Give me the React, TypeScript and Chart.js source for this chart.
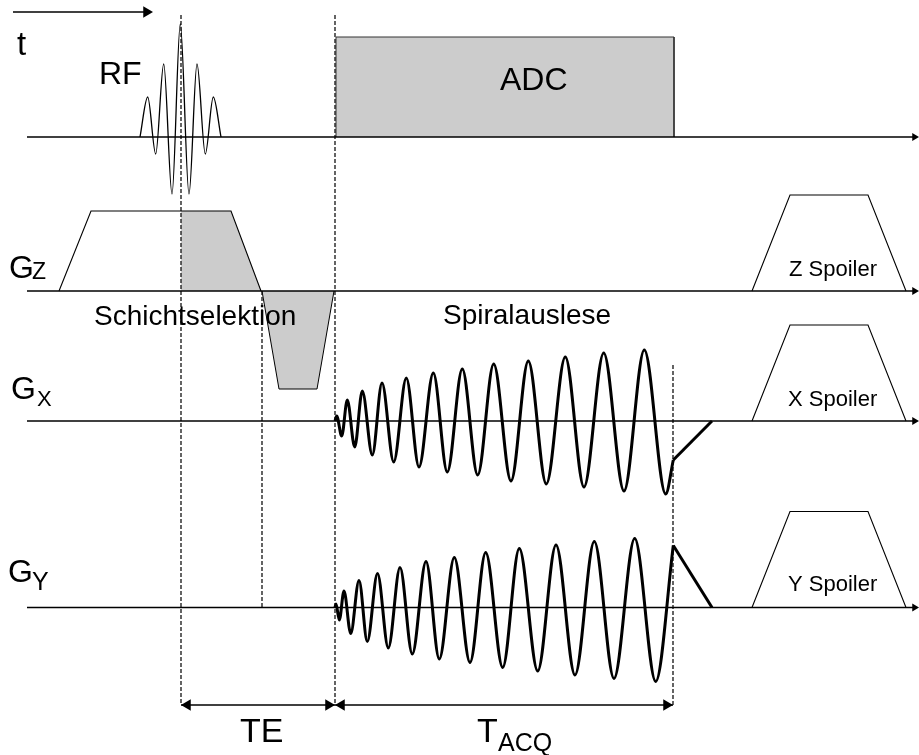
import { useEffect, useRef } from "react";
import { Chart, registerables } from "chart.js";

Chart.register(...registerables);

// ---- Data (time along x, amplitude above each channel's baseline) ----
const RF_T = [140, 147.7, 155.7, 163.7, 172, 180.3, 189, 197, 205.3, 213.3, 221];
const RF_A = [0, 40, -17, 73, -57, 113, -57, 73, -17, 40, 0];

const ADC_T = [336, 336, 674, 674];
const ADC_A = [0, 100, 100, 0];

const GZ_T = [59, 91, 231, 261];
const GZ_A = [0, 80, 80, 0];
const GZ_SHADE_T = [181, 231, 261];
const GZ_SHADE_A = [80, 80, 0];
const GZ_REPHASE_T = [262, 279, 317, 334];
const GZ_REPHASE_A = [0, -98, -98, 0];

const SPOILER_T = [752, 790, 868, 906];
const SPOILER_A = [0, 96, 96, 0];

const GX_T = [335, 336.7, 341.7, 347.3, 354.7, 362.3, 372.3, 382, 393.7, 406.3, 419, 433.3, 447.3, 462.3, 477.7, 493.7, 511, 528.3, 546.3, 565.3, 584, 603.7, 624, 644.3, 665.7, 673.3];
const GX_A = [0, 5, -15, 21, -26, 30, -34, 38, -41, 43, -46, 48, -51, 52, -54, 57, -60, 60, -63, 64, -66, 68, -70, 71, -73, -39];
const GX_RAMP_T = [673.3, 712];
const GX_RAMP_A = [-39, 0];

const GY_T = [335, 336, 339.3, 344, 350.7, 359, 367.3, 377.5, 388.3, 400, 412.3, 426, 439.3, 454.3, 470, 485.7, 502.7, 519.3, 537.7, 556, 575, 594.3, 614, 634.7, 655.7, 673.3];
const GY_A = [0, 3.5, -12.5, 16.5, -26, 27, -34, 34, -40.5, 40, -46.5, 46, -51.5, 50, -55, 55, -60, 59, -63.5, 62.5, -67.5, 66, -71, 69, -74, 62];
const GY_RAMP_T = [673.3, 712];
const GY_RAMP_A = [62, 0];

// timing markers
const MARK_RF_CENTER = 181;
const MARK_ECHO = 335;
const MARK_REPHASE_START = 262;
const MARK_ACQ_END = 673;

// ---- Layout ----
const W = 919;
const H = 755;
const BASE_RF = 137;
const BASE_GZ = 291;
const BASE_GX = 421;
const BASE_GY = 607.5;
const AXIS_START = 27;
const AXIS_END = 914;
const SPAN_ROW = 705;
const FONT = '"Liberation Sans", Arial, Helvetica, sans-serif';
const GRAY = "#cccccc";

const LABELS = [
  { text: "t", x: 17, y: 55, size: 33 },
  { text: "RF", x: 99, y: 84, size: 32 },
  { text: "ADC", x: 500, y: 90, size: 32 },
  { text: "G", x: 9, y: 278, size: 32 },
  { text: "Z", x: 32, y: 279, size: 23 },
  { text: "G", x: 11, y: 399, size: 32 },
  { text: "X", x: 37, y: 406, size: 22 },
  { text: "G", x: 8, y: 582, size: 32 },
  { text: "Y", x: 32, y: 590, size: 25 },
  { text: "Schichtselektion", x: 94, y: 325, size: 28 },
  { text: "Spiralauslese", x: 443, y: 324, size: 28 },
  { text: "Z Spoiler", x: 789, y: 276, size: 22 },
  { text: "X Spoiler", x: 788, y: 406, size: 22 },
  { text: "Y Spoiler", x: 788, y: 591, size: 22 },
  { text: "TE", x: 240, y: 742, size: 34 },
  { text: "T", x: 477, y: 742, size: 34 },
  { text: "ACQ", x: 498, y: 751, size: 25 },
];

const pts = (ts: number[], as: number[], base: number) =>
  ts.map((t, i) => ({ x: t, y: base - as[i] }));

const textPlugin = {
  id: "diagramText",
  afterDatasetsDraw(chart: any) {
    const { ctx } = chart;
    const xs = chart.scales.x;
    const ys = chart.scales.y;
    ctx.save();
    ctx.fillStyle = "#000";
    ctx.textBaseline = "alphabetic";
    ctx.textAlign = "left";
    for (const l of LABELS) {
      ctx.font = `${l.size}px ${FONT}`;
      ctx.fillText(l.text, xs.getPixelForValue(l.x), ys.getPixelForValue(l.y));
    }
    ctx.restore();
  },
};

function line(data: any[], extra: any = {}) {
  return {
    data,
    showLine: true,
    borderColor: "#000",
    borderWidth: 1,
    pointRadius: 0,
    fill: false,
    order: 0,
    ...extra,
  };
}

export default function App() {
  const ref = useRef<HTMLCanvasElement | null>(null);

  useEffect(() => {
    if (!ref.current) return;
    const bases = [BASE_RF, BASE_GZ, BASE_GX, BASE_GY];
    const datasets: any[] = [];

    // baselines
    for (const b of bases) {
      datasets.push(line([{ x: AXIS_START, y: b }, { x: AXIS_END, y: b }], { borderWidth: 1.5 }));
    }
    // time arrow
    datasets.push(line([{ x: 13, y: 12 }, { x: 148, y: 12 }], { borderWidth: 1.3 }));

    // ADC box
    datasets.push(
      line(pts(ADC_T, ADC_A, BASE_RF), {
        fill: { value: BASE_RF },
        backgroundColor: GRAY,
        borderColor: "#333",
        borderWidth: 1,
        order: 5,
      })
    );
    // RF pulse
    datasets.push(line(pts(RF_T, RF_A, BASE_RF), { borderWidth: 1.3, cubicInterpolationMode: "monotone" }));

    // Gz
    datasets.push(
      line(pts(GZ_SHADE_T, GZ_SHADE_A, BASE_GZ), {
        fill: { value: BASE_GZ },
        backgroundColor: GRAY,
        borderWidth: 0,
        order: 6,
      })
    );
    datasets.push(
      line(pts(GZ_REPHASE_T, GZ_REPHASE_A, BASE_GZ), {
        fill: { value: BASE_GZ },
        backgroundColor: GRAY,
        borderWidth: 1,
        order: 5,
      })
    );
    datasets.push(line(pts(GZ_T, GZ_A, BASE_GZ), { borderWidth: 1.1 }));

    // spoilers
    for (const b of [BASE_GZ, BASE_GX, BASE_GY]) {
      datasets.push(line(pts(SPOILER_T, SPOILER_A, b), { borderWidth: 1.1 }));
    }

    // spiral readout
    datasets.push(line(pts(GX_T, GX_A, BASE_GX), { borderWidth: 3, cubicInterpolationMode: "monotone" }));
    datasets.push(line(pts(GX_RAMP_T, GX_RAMP_A, BASE_GX), { borderWidth: 3 }));
    datasets.push(line(pts(GY_T, GY_A, BASE_GY), { borderWidth: 3, cubicInterpolationMode: "monotone" }));
    datasets.push(line(pts(GY_RAMP_T, GY_RAMP_A, BASE_GY), { borderWidth: 3 }));

    // dashed timing markers
    const dash = { borderWidth: 1.3, borderDash: [4, 2], borderColor: "#111" };
    datasets.push(line([{ x: MARK_RF_CENTER, y: 15 }, { x: MARK_RF_CENTER, y: SPAN_ROW }], dash));
    datasets.push(line([{ x: MARK_ECHO, y: 15 }, { x: MARK_ECHO, y: SPAN_ROW }], dash));
    datasets.push(line([{ x: MARK_REPHASE_START, y: BASE_GZ }, { x: MARK_REPHASE_START, y: BASE_GY }], dash));
    datasets.push(line([{ x: MARK_ACQ_END, y: 365 }, { x: MARK_ACQ_END, y: SPAN_ROW }], dash));

    // TE / TACQ span line
    datasets.push(line([{ x: MARK_RF_CENTER, y: SPAN_ROW }, { x: MARK_ACQ_END, y: SPAN_ROW }], { borderWidth: 1.3 }));

    // arrowheads
    const heads = [
      { x: 153 - 6.5, y: 12, r: 6.5, rot: 90 },
      ...bases.map((b) => ({ x: 919 - 4.5, y: b, r: 4.5, rot: 90 })),
      { x: MARK_RF_CENTER + 6.5, y: SPAN_ROW, r: 6.5, rot: 270 },
      { x: MARK_ECHO - 6.5, y: SPAN_ROW, r: 6.5, rot: 90 },
      { x: MARK_ECHO + 6.5, y: SPAN_ROW, r: 6.5, rot: 270 },
      { x: MARK_ACQ_END - 6.5, y: SPAN_ROW, r: 6.5, rot: 90 },
    ];
    datasets.push({
      data: heads.map((h) => ({ x: h.x, y: h.y })),
      showLine: false,
      pointStyle: "triangle",
      pointRadius: heads.map((h) => h.r),
      pointRotation: heads.map((h) => h.rot),
      pointBackgroundColor: "#000",
      pointBorderWidth: 0,
      order: 0,
    });

    const chart = new Chart(ref.current, {
      type: "scatter",
      data: { datasets },
      options: {
        animation: false,
        responsive: false,
        events: [],
        layout: { padding: 0, autoPadding: false },
        plugins: { legend: { display: false }, tooltip: { enabled: false } },
        scales: {
          x: { type: "linear", min: 0, max: W, display: false },
          y: { type: "linear", min: 0, max: H, reverse: true, display: false },
        },
      },
      plugins: [textPlugin],
    } as any);
    return () => chart.destroy();
  }, []);

  return (
    <div style={{ position: "absolute", left: 0, top: 0, width: W, height: H, background: "#fff" }}>
      <canvas ref={ref} width={W} height={H} style={{ display: "block" }} />
    </div>
  );
}
